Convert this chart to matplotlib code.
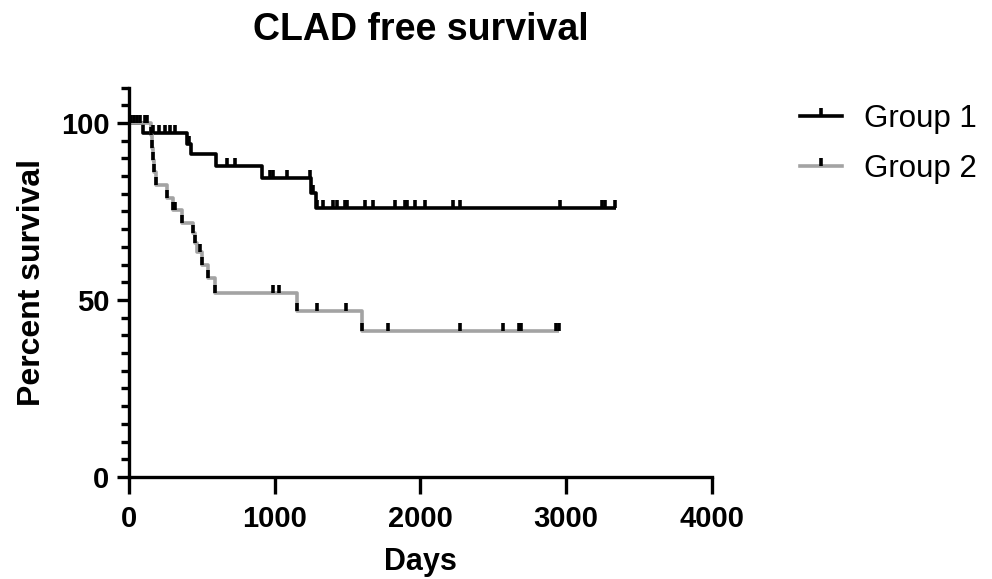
import numpy as np
import matplotlib.pyplot as plt
from matplotlib.path import Path
from matplotlib.lines import Line2D
from matplotlib.legend_handler import HandlerTuple

plt.rcParams['font.family'] = ['Liberation Sans', 'DejaVu Sans']

# Kaplan-Meier steps (day of drop, survival after it)
g1_days = [0, 95, 396, 425, 595, 910, 1250, 1280, 3340]
g1_surv = [100, 97.1, 94.2, 91.2, 87.9, 84.5, 80.3, 76.1, 76.1]
g1_censor = [15, 35, 55, 75, 167, 208, 247, 281, 316, 410, 670, 727, 967, 990,
             1082, 1242, 1262, 1288, 1333, 1402, 1425, 1482, 1493, 1619, 1676,
             1825, 1894, 1905, 1962, 2031, 2225, 2271, 2957, 3243, 3265, 3334]

g2_days = [0, 150, 160, 166, 174, 185, 258, 300, 362, 440, 452, 470, 499, 544,
           590, 1150, 1596, 2950]
g2_surv = [100, 96.5, 93.0, 89.6, 86.1, 82.5, 78.9, 75.3, 71.7, 68.8, 66.2,
           63.6, 59.9, 56.1, 51.9, 47.0, 41.2, 41.2]
g2_censor = [110, 125, 150, 160, 166, 174, 185, 258, 300, 315, 362, 440, 453,
             487, 499, 544, 590, 990, 1030, 1150, 1292, 1489, 1596, 1775, 2271,
             2564, 2675, 2690, 2930, 2950]

labels = ['Group 1', 'Group 2']
line_colors = ['black', '#a3a3a3']

# upward censor tick
tick = Path([(0, 0), (0, 1)])

fig = plt.figure(figsize=(9.92, 5.79), dpi=100)
ax = fig.add_axes([0.130, 0.1762, 0.5877, 0.6725])

handles = []
for days, surv, cens, col in [(g1_days, g1_surv, g1_censor, line_colors[0]),
                              (g2_days, g2_surv, g2_censor, line_colors[1])]:
    days = np.array(days)
    surv = np.array(surv)
    ax.step(days, surv, where='post', color=col, lw=2.6, solid_capstyle='butt', zorder=2)
    idx = np.searchsorted(days, cens, side='right') - 1
    ax.plot(cens, surv[idx], linestyle='none', marker=tick, markersize=12,
            mew=2.6, color='black', zorder=3)
    h_line = Line2D([], [], color=col, lw=2.6)
    h_tick = Line2D([], [], linestyle='none', marker=tick, markersize=12, mew=2.6, color='black')
    handles.append((h_line, h_tick))

ax.set_xlim(0, 4000)
ax.set_ylim(0, 110)
ax.set_xticks([0, 1000, 2000, 3000, 4000])
ax.set_yticks([0, 50, 100])
ax.set_yticks(np.arange(0, 111, 5), minor=True)

for s in ['top', 'right']:
    ax.spines[s].set_visible(False)
for s in ['left', 'bottom']:
    ax.spines[s].set_linewidth(2.4)
ax.spines['left'].set_bounds(0, 110)

ax.tick_params(axis='both', which='major', width=2.4, length=9, labelsize=21, pad=5)
ax.tick_params(axis='x', which='major', length=12, pad=8)
ax.tick_params(axis='y', which='minor', width=2.4, length=6)
for lbl in ax.get_xticklabels() + ax.get_yticklabels():
    lbl.set_fontweight('bold')

ax.set_xlabel('Days', fontsize=22, fontweight='bold', labelpad=10)
ax.set_ylabel('Percent survival', fontsize=23, fontweight='bold', labelpad=10)
fig.text(0.424, 0.948, 'CLAD free survival', fontsize=27, fontweight='bold',
         ha='center', va='center')

fig.legend(handles, labels, handler_map={tuple: HandlerTuple(ndivide=1, pad=0)},
           loc='upper left', bbox_to_anchor=(0.806, 0.82), frameon=False,
           fontsize=22.5, handlelength=1.35, handletextpad=0.72, labelspacing=0.62,
           borderpad=0, borderaxespad=0)

fig.savefig('out.png', dpi=100)
